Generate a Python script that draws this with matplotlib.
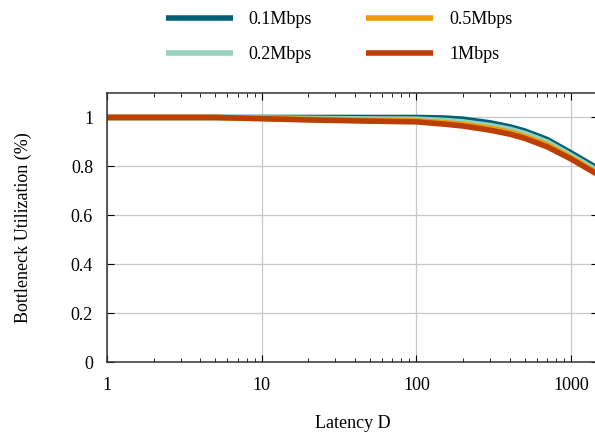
import matplotlib.pyplot as plt
from matplotlib.ticker import LogLocator, NullFormatter, FixedLocator

plt.rcParams['font.family'] = ['Liberation Serif', 'DejaVu Serif']

# latency values (x) and utilization for each bandwidth
latency = [1, 2, 5, 10, 20, 50, 100, 150, 200, 300, 400, 500, 700, 1000, 1500]
util_01 = [1.0, 1.0, 1.0, 1.0, 1.0, 1.0, 1.0, 0.998, 0.993, 0.978, 0.962, 0.945, 0.91, 0.855, 0.79]
util_02 = [1.0, 1.0, 1.0, 0.998, 0.996, 0.994, 0.993, 0.988, 0.982, 0.967, 0.952, 0.935, 0.9, 0.845, 0.78]
util_05 = [1.0, 1.0, 1.0, 0.996, 0.992, 0.988, 0.986, 0.979, 0.972, 0.956, 0.94, 0.922, 0.888, 0.835, 0.77]
util_1 = [1.0, 1.0, 1.0, 0.995, 0.99, 0.985, 0.982, 0.973, 0.965, 0.948, 0.932, 0.915, 0.88, 0.83, 0.765]

labels = ['0.1Mbps', '0.2Mbps', '0.5Mbps', '1Mbps']
colors = ['#005f73', '#94d2bd', '#ee9b00', '#bb3e03']
series = [util_01, util_02, util_05, util_1]

fig = plt.figure(figsize=(5.95, 4.32), dpi=100)
ax = fig.add_axes([0.1798, 0.162, 0.8258, 0.6227])

lines = []
for vals, c, lab in zip(series, colors, labels):
    ln, = ax.plot(latency, vals, color=c, lw=4.0, label=lab, solid_capstyle='butt')
    lines.append(ln)

ax.set_xscale('log')
ax.set_xlim(1, 1500)
ax.set_ylim(0, 1.1)
ax.set_yticks([0, 0.2, 0.4, 0.6, 0.8, 1.0])
ax.set_yticklabels(['0', '0.2', '0.4', '0.6', '0.8', '1'])
ax.xaxis.set_major_locator(FixedLocator([1, 10, 100, 1000]))
ax.set_xticklabels(['1', '10', '100', '1000'])
ax.xaxis.set_minor_locator(LogLocator(base=10, subs=range(2, 10)))
ax.xaxis.set_minor_formatter(NullFormatter())

ax.grid(True, which='major', color='#c8c8c8', lw=0.9)
ax.set_axisbelow(True)
ax.tick_params(which='both', direction='in', top=True, right=True, labelsize=13)
ax.tick_params(axis='x', pad=11)
ax.tick_params(axis='y', pad=10)
ax.tick_params(which='major', length=5)
ax.tick_params(which='minor', length=3)
for s in ax.spines.values():
    s.set_linewidth(1.1)
    s.set_color('#333333')

ax.set_xlabel('Latency D', fontsize=13, labelpad=15)
ax.set_ylabel('Bottleneck Utilization (%)', fontsize=13, labelpad=28)

fig.legend(handles=lines, labels=labels, ncol=2, loc='center', bbox_to_anchor=(0.57, 0.914),
           frameon=False, fontsize=13, handlelength=3.7, labelspacing=0.98, columnspacing=3.0,
           handletextpad=0.9)

fig.savefig('out.png', dpi=100)
